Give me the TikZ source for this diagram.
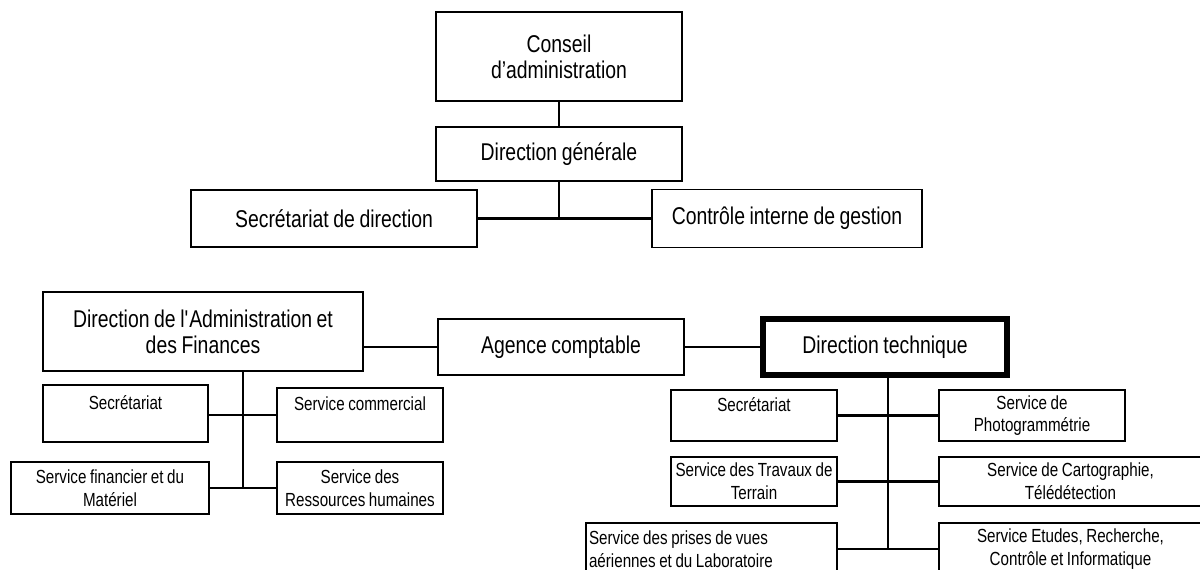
\documentclass[tikz,border=0pt]{standalone}
\usepackage{fontspec}
\setmainfont{Liberation Sans}[FakeStretch=0.8, WordSpace=0.85]
\usepackage{tikz}

\begin{document}
\begin{tikzpicture}[
    x=0.02cm, y=-0.02cm,
    unit/.style={draw, line width=0.8pt, inner sep=1pt,
                 font=\fontsize{13.8}{14.9}\selectfont,
                 align=center},
    service/.style={draw, line width=0.8pt, inner sep=1pt,
                    font=\fontsize{10.8}{12.9}\selectfont,
                    align=center},
    link/.style={line width=1.4pt},
]
\useasboundingbox (0,0) rectangle (1200,569);
\fill[white] (0,0) rectangle (1200,569);
\clip (0,0) rectangle (1200,569);

\node[unit, minimum width=4.92cm, minimum height=1.78cm] (conseil) at (559,56.5)
    {Conseil\\d’administration};
\node[unit, minimum width=4.92cm, minimum height=1.08cm] (dg) at (559,154)
    {Direction générale};
\node[unit, minimum width=5.72cm, minimum height=1.14cm] (secdir) at (334,218.5)
    {Secrétariat de direction};
\node[unit, minimum width=5.4cm, minimum height=1.16cm] (ctrl) at (787,218.5)
    {Contrôle interne de gestion};

\node[unit, minimum width=6.4cm, minimum height=1.58cm] (daf) at (203,331.5)
    {Direction de l\textquotesingle Administration et\\des Finances};
\node[unit, minimum width=4.92cm, minimum height=1.12cm] (agence) at (561,347)
    {Agence comptable};
\node[unit, line width=3.4pt, minimum width=4.88cm, minimum height=1.12cm]
    (dt) at (885,347) {Direction technique};

\node[service, minimum width=3.3cm, minimum height=1.14cm] (secadm) at (125.5,413.5)
    {Secrétariat\\\mbox{}};
\node[service, minimum width=3.32cm, minimum height=1.08cm] (comm) at (360,415)
    {Service commercial\\\mbox{}};
\node[service, minimum width=3.96cm, minimum height=1.04cm] (fin) at (110,488)
    {Service financier et du\\Matériel};
\node[service, minimum width=3.32cm, minimum height=1.04cm] (rh) at (360,488)
    {Service des\\Ressources humaines};

\node[service, minimum width=3.32cm, minimum height=1.02cm] (sectech) at (754,415.5)
    {Secrétariat\\\mbox{}};
\node[service, minimum width=3.72cm, minimum height=1.02cm] (photo) at (1032,415.5)
    {Service de\\Photogrammétrie};
\node[service, minimum width=3.32cm, minimum height=0.98cm] (trav) at (754,481.5)
    {Service des Travaux de\\Terrain};
\node[service, minimum width=5.26cm, minimum height=0.98cm] (carto) at (1070.5,481.5)
    {Service de Cartographie,\\Télédétection};
\node[service, align=flush left, inner xsep=0.06cm, text width=4.9cm,
      minimum height=1.04cm] (prises) at (711.5,549)
    {Service des prises de vues\\aériennes et du Laboratoire};
\node[service, minimum width=5.26cm, minimum height=1.04cm] (etudes) at (1070.5,549)
    {Service Etudes, Recherche,\\Contrôle et Informatique};

\draw[link] (conseil) -- (dg);
\coordinate (topjoint) at (559,218.5);
\draw[link] (dg) -- (topjoint);
\draw[link] (secdir) -- (ctrl);

\draw[link] (agence.west) -- (agence.west -| daf.east);
\draw[link] (agence) -- (dt);

\coordinate (admstem) at (243,488);
\draw[link] (admstem |- daf.south) -- (admstem);
\draw[link] (comm.west) -- (comm.west -| secadm.east);
\draw[link] (fin) -- (rh);

\coordinate (techstem) at (888,549);
\draw[link] (techstem |- dt.south) -- (techstem);
\draw[link] (sectech) -- (photo);
\draw[link] (trav) -- (carto);
\draw[link] (prises) -- (etudes);
\end{tikzpicture}
\end{document}
